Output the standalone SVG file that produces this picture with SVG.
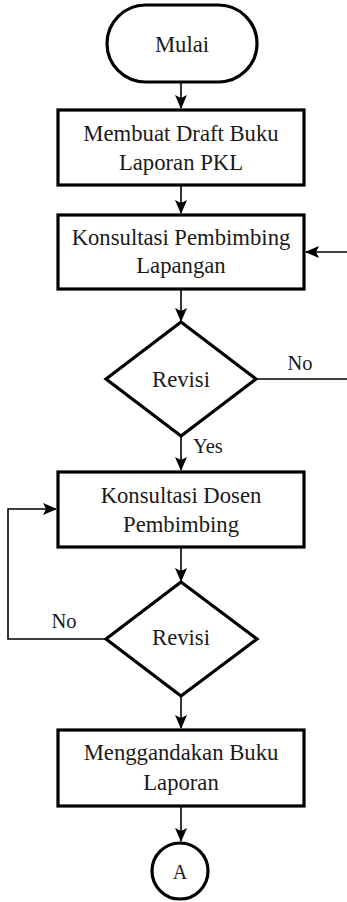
<svg xmlns="http://www.w3.org/2000/svg" width="347" height="902" viewBox="0 0 347 902">
<style>
.shape{fill:#fff;stroke:#000;stroke-width:3.2}
.t{font-family:"Liberation Serif","Times New Roman","DejaVu Serif",serif;font-size:22.7px;fill:#1a1a1a;text-anchor:middle}
.lbl{font-family:"Liberation Serif","Times New Roman","DejaVu Serif",serif;font-size:20.5px;fill:#1a1a1a}
.c{fill:none;stroke:#000;stroke-width:1.6}
</style>
<defs>
<marker id="ah" markerUnits="userSpaceOnUse" markerWidth="14" markerHeight="14" viewBox="0 0 14 12" refX="13" refY="6" orient="auto">
<path d="M0,0 L14,6 L0,12 L3,6 z" fill="#000"/>
</marker>
</defs>
<rect width="347" height="902" fill="#fff"/>
<g id="connectors">
<line class="c" x1="181" y1="82" x2="181" y2="108" marker-end="url(#ah)"/>
<line class="c" x1="181" y1="185" x2="181" y2="213" marker-end="url(#ah)"/>
<line class="c" x1="347" y1="252" x2="306" y2="252" marker-end="url(#ah)"/>
<line class="c" x1="181" y1="289" x2="181" y2="321" marker-end="url(#ah)"/>
<line class="c" x1="256" y1="379" x2="347" y2="379"/>
<line class="c" x1="181" y1="436" x2="181" y2="470" marker-end="url(#ah)"/>
<line class="c" x1="181" y1="547" x2="181" y2="581" marker-end="url(#ah)"/>
<polyline class="c" points="106,639 8,639 8,509 56,509" marker-end="url(#ah)"/>
<line class="c" x1="181" y1="696" x2="181" y2="728" marker-end="url(#ah)"/>
<line class="c" x1="181" y1="806" x2="181" y2="841" marker-end="url(#ah)"/>
<text class="lbl" x="300" y="370" text-anchor="middle">No</text>
<text class="lbl" x="193" y="453">Yes</text>
<text class="lbl" x="64" y="628" text-anchor="middle">No</text>
</g>
<g id="start">
<rect class="shape" x="107" y="5" width="150" height="77" rx="38.5"/>
<text class="t" x="182" y="52">Mulai</text>
</g>
<g id="draft">
<rect class="shape" x="58" y="110" width="246" height="75"/>
<text class="t" x="181" y="141">Membuat Draft Buku</text>
<text class="t" x="181" y="170">Laporan PKL</text>
</g>
<g id="konsultasi-lapangan">
<rect class="shape" x="58" y="215" width="246" height="74"/>
<text class="t" x="181" y="245">Konsultasi Pembimbing</text>
<text class="t" x="181" y="273">Lapangan</text>
</g>
<g id="revisi1">
<polygon class="shape" points="181,322 256,379 181,436 106,379"/>
<text class="t" x="181" y="387">Revisi</text>
</g>
<g id="konsultasi-dosen">
<rect class="shape" x="58" y="472" width="246" height="75"/>
<text class="t" x="181" y="503">Konsultasi Dosen</text>
<text class="t" x="181" y="532">Pembimbing</text>
</g>
<g id="revisi2">
<polygon class="shape" points="181,582 257,639 181,696 106,639"/>
<text class="t" x="181" y="645">Revisi</text>
</g>
<g id="gandakan">
<rect class="shape" x="58" y="730" width="246" height="76"/>
<text class="t" x="181" y="760">Menggandakan Buku</text>
<text class="t" x="181" y="790">Laporan</text>
</g>
<g id="connector-a">
<circle class="shape" cx="180" cy="871" r="28"/>
<text class="t" x="180" y="879" style="font-size:20px">A</text>
</g>
</svg>
